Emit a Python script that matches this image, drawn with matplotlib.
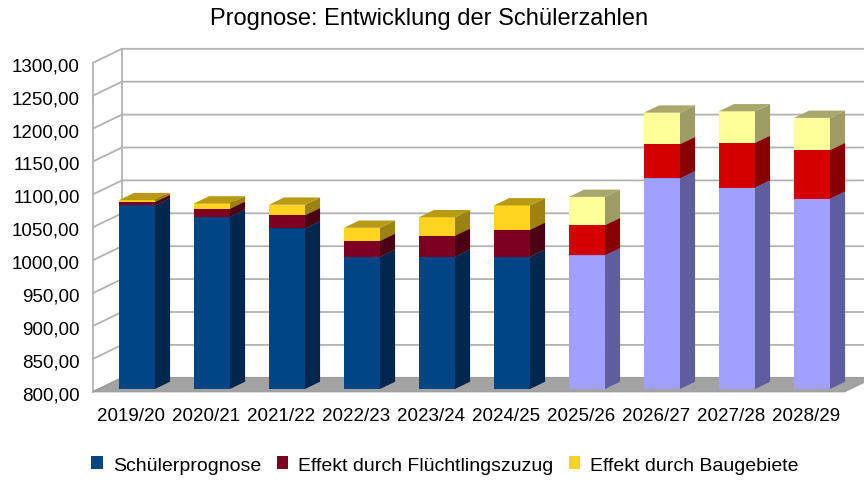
import matplotlib.pyplot as plt
from matplotlib.patches import Polygon, Patch

plt.rcParams['font.family'] = ['Liberation Sans', 'DejaVu Sans']

# data
jahre = ["2019/20", "2020/21", "2021/22", "2022/23", "2023/24",
         "2024/25", "2025/26", "2026/27", "2027/28", "2028/29"]
schueler = [1079, 1062, 1044, 1001, 1001, 1001, 1003, 1120, 1106, 1089]
fluechtlinge = [5, 12, 20, 24, 32, 41, 46, 52, 68, 74]
baugebiete = [3, 8, 16, 20, 28, 37, 43, 48, 48, 49]
serien = ["Schülerprognose", "Effekt durch Flüchtlingszuzug", "Effekt durch Baugebiete"]
erstes_prognosejahr = "2025/26"
y_ticks = list(range(800, 1301, 50))

# colours: (front, top, side) for past years and forecast years
farben_ist = [("#004586", "#003468", "#00284f"),
              ("#7e0021", "#5e0019", "#4c0014"),
              ("#ffd320", "#b89a17", "#9c8212")]
farben_prog = [("#a0a0ff", "#7c7cc6", "#5e5e9e"),
               ("#d40000", "#9a0000", "#880000"),
               ("#ffff99", "#a8a86c", "#9c9c64")]

# pseudo 3D geometry (pixels -> data units)
W, H = 864, 481
px_cat = 75.0          # pixels per category
px_val = 0.658         # pixels per value unit
x0_px, y0_px = 137.0, 390.0   # bar front plane: cat 0 / value 800
DX, DY = 29.0 / px_cat, 14.0 / px_val   # full wall depth
Z0, Z1 = 0.2, 0.72     # bar depth range
bw = 0.48
pad = 0.51
vmin, vmax = y_ticks[0], y_ticks[-1]


def P(x, v, z):
    return (x + (z - Z0) * DX, v + (z - Z0) * DY)


fig = plt.figure(figsize=(W / 100, H / 100), dpi=100)
ax = fig.add_axes([0, 0, 1, 1])
ax.set_xlim(-x0_px / px_cat, (W - x0_px) / px_cat)
ax.set_ylim(vmin - (H - y0_px) / px_val, vmin + y0_px / px_val)
ax.axis("off")

n = len(jahre)
xl, xr = -pad, n - 1 + pad
grid_c = "#b3b3b3"

# floor
ax.add_patch(Polygon([P(xl, vmin, 0), P(xr, vmin, 0), P(xr, vmin, 1), P(xl, vmin, 1)],
                     closed=True, fc="#a3a3a3", ec="#999999", lw=0.8, zorder=1))
# walls and grid
for v in y_ticks:
    ax.plot(*zip(P(xl, v, 0), P(xl, v, 1), P(xr + 1, v, 1)), color=grid_c, lw=1.3, zorder=0)
for z in (0, 1):
    ax.plot(*zip(P(xl, vmin, z), P(xl, vmax, z)), color=grid_c, lw=1.3, zorder=0)

# bars
prog_idx = jahre.index(erstes_prognosejahr)
for i in range(n):
    cols = farben_ist if i < prog_idx else farben_prog
    unten = vmin
    oben = 0
    for k, wert in enumerate([schueler[i], fluechtlinge[i], baugebiete[i]]):
        oben = oben + wert
        front, top, side = cols[k]
        a, b = i - bw / 2, i + bw / 2
        zo = 2 + i
        ax.add_patch(Polygon([P(a, unten, Z0), P(b, unten, Z0), P(b, oben, Z0), P(a, oben, Z0)],
                             closed=True, fc=front, ec="none", zorder=zo))
        ax.add_patch(Polygon([P(b, unten, Z0), P(b, unten, Z1), P(b, oben, Z1), P(b, oben, Z0)],
                             closed=True, fc=side, ec="none", zorder=zo))
        ax.add_patch(Polygon([P(a, oben, Z0), P(b, oben, Z0), P(b, oben, Z1), P(a, oben, Z1)],
                             closed=True, fc=top, ec="none", zorder=zo))
        unten = oben

# axis labels
for v in y_ticks:
    x, y = P(xl, v, 0)
    ax.text(x - 13 / px_cat, y - 3 / px_val, f"{v:.2f}".replace(".", ","), ha="right",
            va="center", fontsize=13.5, color="#000000")
for i, j in enumerate(jahre):
    x, y = P(i, vmin, 0)
    ax.text(x, y - 24 / px_val, j, ha="center", va="center", fontsize=13.5)

fig.text(0.497, 1 - 19 / H, "Prognose: Entwicklung der Schülerzahlen", ha="center",
         va="center", fontsize=17)

handles = [Patch(fc=c[0], ec="none") for c in farben_ist]
fig.legend(handles, serien, loc="center", bbox_to_anchor=(0.515, 1 - 466 / H), ncol=3,
           frameon=False, fontsize=14, handlelength=0.6, handleheight=0.6,
           handletextpad=0.5, columnspacing=0.8)

fig.savefig("out.png", dpi=100)
